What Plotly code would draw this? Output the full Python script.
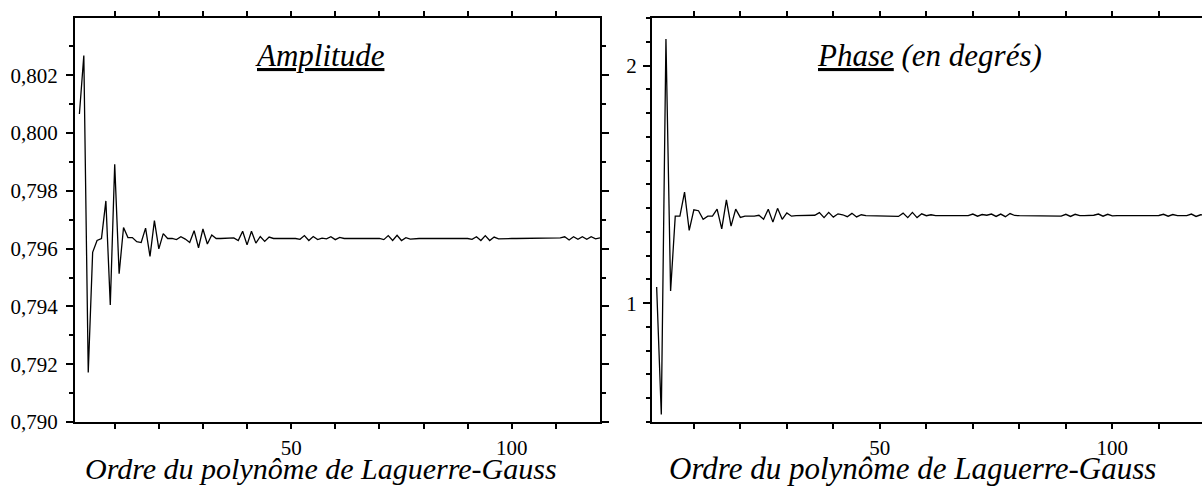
import plotly.graph_objects as go

# Polynomial order (x) and the two reconstructed quantities
ordre = list(range(2, 121))

amplitude = [
    0.80066, 0.80268, 0.79171, 0.79587, 0.79628, 0.79635, 0.79765, 0.79405, 0.79892,
    0.79513, 0.79673, 0.79638, 0.79638, 0.79624, 0.79621, 0.79671, 0.79573, 0.79697, 0.79599,
    0.79652, 0.79635, 0.79635, 0.79631, 0.79641, 0.79633, 0.79621, 0.79662, 0.79603, 0.79668,
    0.79616, 0.79647, 0.79635, 0.79635, 0.79635, 0.79635, 0.79637, 0.79628, 0.79660, 0.79613,
    0.79660, 0.79619, 0.79642, 0.79625, 0.79640, 0.79635, 0.79635, 0.79635, 0.79635, 0.79635,
    0.79635, 0.79632, 0.79645, 0.79628, 0.79642, 0.79631, 0.79636, 0.79634, 0.79641, 0.79631,
    0.79639, 0.79635, 0.79635, 0.79635, 0.79635, 0.79635, 0.79635, 0.79635, 0.79635, 0.79635,
    0.79631, 0.79645, 0.79628, 0.79646, 0.79628, 0.79638, 0.79633, 0.79635, 0.79635, 0.79635,
    0.79635, 0.79635, 0.79635, 0.79635, 0.79635, 0.79635, 0.79635, 0.79635, 0.79635, 0.79635,
    0.79632, 0.79641, 0.79628, 0.79645, 0.79628, 0.79640, 0.79634, 0.79635, 0.79635, 0.79635,
    0.79635, 0.79635, 0.79635, 0.79635, 0.79635, 0.79635, 0.79635, 0.79635, 0.79635, 0.79635,
    0.79637, 0.79641, 0.79630, 0.79641, 0.79632, 0.79641, 0.79632, 0.79641, 0.79634, 0.79637,
]

phase = [
    1.068, 0.532, 2.112, 1.051, 1.366, 1.366, 1.467, 1.306, 1.393,
    1.389, 1.353, 1.366, 1.366, 1.396, 1.313, 1.435, 1.324, 1.396, 1.361,
    1.366, 1.366, 1.366, 1.370, 1.353, 1.395, 1.341, 1.399, 1.353, 1.380,
    1.366, 1.368, 1.368, 1.368, 1.368, 1.370, 1.381, 1.360, 1.382, 1.362,
    1.376, 1.372, 1.364, 1.378, 1.363, 1.372, 1.368, 1.368, 1.368, 1.368,
    1.368, 1.368, 1.368, 1.365, 1.379, 1.360, 1.382, 1.360, 1.376, 1.368,
    1.372, 1.368, 1.368, 1.368, 1.368, 1.368, 1.368, 1.368, 1.368, 1.375,
    1.366, 1.373, 1.370, 1.375, 1.365, 1.375, 1.364, 1.377, 1.369, 1.368,
    1.368, 1.368, 1.368, 1.368, 1.368, 1.368, 1.368, 1.368, 1.366, 1.374,
    1.365, 1.374, 1.368, 1.368, 1.368, 1.370, 1.375, 1.366, 1.374, 1.367,
    1.368, 1.368, 1.368, 1.368, 1.368, 1.368, 1.368, 1.368, 1.368, 1.369,
    1.374, 1.366, 1.373, 1.368, 1.368, 1.368, 1.375, 1.365, 1.372, 1.370,
]

x_ticks = [10, 20, 30, 40, 50, 60, 70, 80, 90, 100, 110]
x_ticktext = ["", "", "", "", "50", "", "", "", "", "100", ""]

titre_gauche = "<i><u>Amplitude</u></i>"
titre_droite = "<i><u>Phase</u> (en degrés)</i>"
titre_x = "<i>Ordre du polynôme de Laguerre-Gauss</i>"

W, H = 1202, 486
ML, MR, MT, MB = 75, 0, 18, 64
PW = W - ML - MR
PH = H - MT - MB

SERIF = "Liberation Serif, Times New Roman, serif"
INK = "black"


def px_x(p):
    return (p - ML) / PW


def px_y(p):
    return (H - MB - p) / PH


fig = go.Figure()
fig.add_trace(go.Scatter(x=ordre, y=amplitude, mode="lines",
                         line=dict(color=INK, width=1.3), xaxis="x", yaxis="y",
                         showlegend=False, hoverinfo="skip"))
fig.add_trace(go.Scatter(x=ordre, y=phase, mode="lines",
                         line=dict(color=INK, width=1.3), xaxis="x2", yaxis="y2",
                         showlegend=False, hoverinfo="skip"))

tickfont = dict(family=SERIF, size=21, color=INK)

xbase = dict(
    tickmode="array", tickvals=x_ticks, ticktext=x_ticktext,
    ticks="outside", ticklen=5, tickwidth=1.5, tickcolor=INK,
    showline=True, linecolor=INK, linewidth=2, mirror="allticks",
    showgrid=False, zeroline=False, tickfont=tickfont, ticklabelstandoff=1,
)
ybase = dict(
    ticks="outside", ticklen=7, tickwidth=1.5, tickcolor=INK,
    showline=True, linecolor=INK, linewidth=2,
    showgrid=False, zeroline=False, tickfont=tickfont,
)

fig.update_layout(
    width=W, height=H,
    margin=dict(l=ML, r=MR, t=MT, b=MB, pad=0),
    paper_bgcolor="white", plot_bgcolor="white",
    separators=", ",
    showlegend=False,
    xaxis=dict(xbase, domain=[0, px_x(600)], range=[1, 120], anchor="y"),
    xaxis2=dict(xbase, domain=[px_x(652), 1], range=[1, 119.28], anchor="y2"),
    yaxis=dict(ybase, range=[0.790, 0.80398], tick0=0.790, dtick=0.002,
               tickformat=".3f", mirror="allticks", ticklabelstandoff=4,
               minor=dict(dtick=0.001, ticks="outside", ticklen=4,
                          tickwidth=1.5, tickcolor=INK, showgrid=False),
               anchor="x"),
    yaxis2=dict(ybase, range=[0.5, 2.2], tick0=0, dtick=1, mirror=False,
                ticklabelstandoff=2,
                minor=dict(dtick=0.1, ticks="outside", ticklen=4,
                           tickwidth=1.5, tickcolor=INK, showgrid=False),
                anchor="x2"),
    annotations=[
        dict(text=titre_gauche, x=px_x(253), y=px_y(56), xref="paper", yref="paper",
             xanchor="left", yanchor="middle", showarrow=False,
             font=dict(family=SERIF, size=31, color=INK)),
        dict(text=titre_droite, x=px_x(815), y=px_y(56), xref="paper", yref="paper",
             xanchor="left", yanchor="middle", showarrow=False,
             font=dict(family=SERIF, size=31, color=INK)),
        dict(text=titre_x, x=px_x(321), y=px_y(468), xref="paper", yref="paper",
             xanchor="center", yanchor="middle", showarrow=False,
             font=dict(family=SERIF, size=30, color=INK)),
        dict(text=titre_x, x=px_x(912), y=px_y(468), xref="paper", yref="paper",
             xanchor="center", yanchor="middle", showarrow=False,
             font=dict(family=SERIF, size=31, color=INK)),
    ],
)

fig.write_html("out.html", config={"displayModeBar": False})
